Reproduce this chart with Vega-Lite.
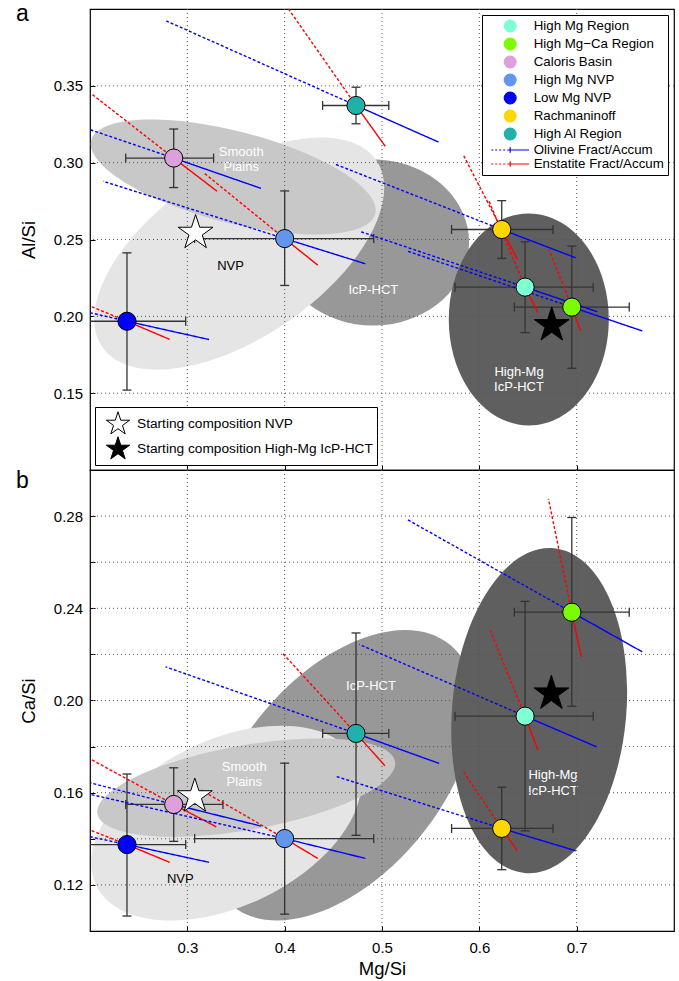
{
"$schema":"https://vega.github.io/schema/vega-lite/v6.json",
"padding":{"left":15,"top":2,"right":0,"bottom":0},
"config":{
 "font":"Liberation Sans",
 "view":{"stroke":"black","strokeWidth":1.2},
 "axis":{"domain":false,"grid":false,"ticks":true,"tickColor":"black","tickSize":-5,"tickWidth":1,"labelFontSize":15,"labelColor":"black","titleFontSize":18.5,"titleFontWeight":"normal","titleColor":"black"},
 "axisY":{"labelPadding":12.5,"titlePadding":15},
 "axisX":{"labelPadding":14,"titlePadding":4}
},
"datasets":{
 "points":[
  {"panel":"a","region":"High Mg Region","mg":0.647,"val":0.219,"mg_lo":0.575,"mg_hi":0.717,"val_lo":0.1894,"val_hi":0.2485},
  {"panel":"a","region":"High Mg−Ca Region","mg":0.695,"val":0.206,"mg_lo":0.636,"mg_hi":0.754,"val_lo":0.1662,"val_hi":0.2457},
  {"panel":"a","region":"Caloris Basin","mg":0.286,"val":0.303,"mg_lo":0.2367,"mg_hi":0.327,"val_lo":0.2838,"val_hi":0.3219},
  {"panel":"a","region":"High Mg NVP","mg":0.4,"val":0.2506,"mg_lo":0.3075,"mg_hi":0.4915,"val_lo":0.2201,"val_hi":0.2816},
  {"panel":"a","region":"Low Mg NVP","mg":0.238,"val":0.1968,"mg_lo":0.178,"mg_hi":0.2983,"val_lo":0.152,"val_hi":0.2413},
  {"panel":"a","region":"Rachmaninoff","mg":0.623,"val":0.2565,"mg_lo":0.5715,"mg_hi":0.6757,"val_lo":0.2377,"val_hi":0.2753},
  {"panel":"a","region":"High Al Region","mg":0.4733,"val":0.3372,"mg_lo":0.439,"mg_hi":0.507,"val_lo":0.3253,"val_hi":0.3491},
  {"panel":"b","region":"High Mg Region","mg":0.647,"val":0.1932,"mg_lo":0.575,"mg_hi":0.717,"val_lo":0.1434,"val_hi":0.243},
  {"panel":"b","region":"High Mg−Ca Region","mg":0.695,"val":0.2383,"mg_lo":0.636,"mg_hi":0.754,"val_lo":0.1975,"val_hi":0.2794},
  {"panel":"b","region":"Caloris Basin","mg":0.286,"val":0.1549,"mg_lo":0.2367,"mg_hi":0.3366,"val_lo":0.1389,"val_hi":0.1708},
  {"panel":"b","region":"High Mg NVP","mg":0.4,"val":0.1401,"mg_lo":0.3075,"mg_hi":0.4915,"val_lo":0.1073,"val_hi":0.1728},
  {"panel":"b","region":"Low Mg NVP","mg":0.238,"val":0.1375,"mg_lo":0.178,"mg_hi":0.2983,"val_lo":0.1065,"val_hi":0.1681},
  {"panel":"b","region":"Rachmaninoff","mg":0.623,"val":0.1445,"mg_lo":0.5715,"mg_hi":0.6757,"val_lo":0.1266,"val_hi":0.1624},
  {"panel":"b","region":"High Al Region","mg":0.4733,"val":0.1857,"mg_lo":0.439,"mg_hi":0.507,"val_lo":0.1415,"val_hi":0.2293}
 ],
 "lines":[
  {"panel":"a","region":"High Al Region","mineral":"Olivine Fract/Accum","kind":"fractionation","mg":0.4733,"val":0.3372,"mg2":0.2785,"val2":0.3922},
  {"panel":"a","region":"High Al Region","mineral":"Olivine Fract/Accum","kind":"accumulation","mg":0.4733,"val":0.3372,"mg2":0.5581,"val2":0.3134},
  {"panel":"a","region":"High Al Region","mineral":"Enstatite Fract/Accum","kind":"fractionation","mg":0.4733,"val":0.3372,"mg2":0.404,"val2":0.4},
  {"panel":"a","region":"High Al Region","mineral":"Enstatite Fract/Accum","kind":"accumulation","mg":0.4733,"val":0.3372,"mg2":0.5034,"val2":0.3106},
  {"panel":"a","region":"Caloris Basin","mineral":"Olivine Fract/Accum","kind":"fractionation","mg":0.286,"val":0.303,"mg2":0.2,"val2":0.3215},
  {"panel":"a","region":"Caloris Basin","mineral":"Olivine Fract/Accum","kind":"accumulation","mg":0.286,"val":0.303,"mg2":0.3756,"val2":0.2833},
  {"panel":"a","region":"Caloris Basin","mineral":"Enstatite Fract/Accum","kind":"fractionation","mg":0.286,"val":0.303,"mg2":0.2015,"val2":0.3448},
  {"panel":"a","region":"Caloris Basin","mineral":"Enstatite Fract/Accum","kind":"accumulation","mg":0.286,"val":0.303,"mg2":0.3305,"val2":0.2814},
  {"panel":"a","region":"High Mg NVP","mineral":"Olivine Fract/Accum","kind":"fractionation","mg":0.4,"val":0.2506,"mg2":0.2135,"val2":0.2879},
  {"panel":"a","region":"High Mg NVP","mineral":"Olivine Fract/Accum","kind":"accumulation","mg":0.4,"val":0.2506,"mg2":0.4829,"val2":0.2342},
  {"panel":"a","region":"High Mg NVP","mineral":"Enstatite Fract/Accum","kind":"fractionation","mg":0.4,"val":0.2506,"mg2":0.3171,"val2":0.2933},
  {"panel":"a","region":"High Mg NVP","mineral":"Enstatite Fract/Accum","kind":"accumulation","mg":0.4,"val":0.2506,"mg2":0.434,"val2":0.2333},
  {"panel":"a","region":"Low Mg NVP","mineral":"Olivine Fract/Accum","kind":"fractionation","mg":0.238,"val":0.1968,"mg2":0.2,"val2":0.2024},
  {"panel":"a","region":"Low Mg NVP","mineral":"Olivine Fract/Accum","kind":"accumulation","mg":0.238,"val":0.1968,"mg2":0.3223,"val2":0.1849},
  {"panel":"a","region":"Low Mg NVP","mineral":"Enstatite Fract/Accum","kind":"fractionation","mg":0.238,"val":0.1968,"mg2":0.2,"val2":0.2067},
  {"panel":"a","region":"Low Mg NVP","mineral":"Enstatite Fract/Accum","kind":"accumulation","mg":0.238,"val":0.1968,"mg2":0.2818,"val2":0.185},
  {"panel":"a","region":"Rachmaninoff","mineral":"Olivine Fract/Accum","kind":"fractionation","mg":0.623,"val":0.2565,"mg2":0.4511,"val2":0.2992},
  {"panel":"a","region":"Rachmaninoff","mineral":"Olivine Fract/Accum","kind":"accumulation","mg":0.623,"val":0.2565,"mg2":0.699,"val2":0.2381},
  {"panel":"a","region":"Rachmaninoff","mineral":"Enstatite Fract/Accum","kind":"fractionation","mg":0.623,"val":0.2565,"mg2":0.5834,"val2":0.3052},
  {"panel":"a","region":"Rachmaninoff","mineral":"Enstatite Fract/Accum","kind":"accumulation","mg":0.623,"val":0.2565,"mg2":0.6392,"val2":0.237},
  {"panel":"a","region":"High Mg Region","mineral":"Olivine Fract/Accum","kind":"fractionation","mg":0.647,"val":0.219,"mg2":0.4767,"val2":0.2554},
  {"panel":"a","region":"High Mg Region","mineral":"Olivine Fract/Accum","kind":"accumulation","mg":0.647,"val":0.219,"mg2":0.7212,"val2":0.203},
  {"panel":"a","region":"High Mg Region","mineral":"Enstatite Fract/Accum","kind":"fractionation","mg":0.647,"val":0.219,"mg2":0.61,"val2":0.2749},
  {"panel":"a","region":"High Mg Region","mineral":"Enstatite Fract/Accum","kind":"accumulation","mg":0.647,"val":0.219,"mg2":0.6603,"val2":0.2024},
  {"panel":"a","region":"High Mg−Ca Region","mineral":"Olivine Fract/Accum","kind":"fractionation","mg":0.695,"val":0.206,"mg2":0.5264,"val2":0.2424},
  {"panel":"a","region":"High Mg−Ca Region","mineral":"Olivine Fract/Accum","kind":"accumulation","mg":0.695,"val":0.206,"mg2":0.7674,"val2":0.1905},
  {"panel":"a","region":"High Mg−Ca Region","mineral":"Enstatite Fract/Accum","kind":"fractionation","mg":0.695,"val":0.206,"mg2":0.6716,"val2":0.2435},
  {"panel":"a","region":"High Mg−Ca Region","mineral":"Enstatite Fract/Accum","kind":"accumulation","mg":0.695,"val":0.206,"mg2":0.7041,"val2":0.1905},
  {"panel":"b","region":"High Al Region","mineral":"Olivine Fract/Accum","kind":"fractionation","mg":0.4733,"val":0.1857,"mg2":0.2777,"val2":0.2146},
  {"panel":"b","region":"High Al Region","mineral":"Olivine Fract/Accum","kind":"accumulation","mg":0.4733,"val":0.1857,"mg2":0.5587,"val2":0.1727},
  {"panel":"b","region":"High Al Region","mineral":"Enstatite Fract/Accum","kind":"fractionation","mg":0.4733,"val":0.1857,"mg2":0.3981,"val2":0.2204},
  {"panel":"b","region":"High Al Region","mineral":"Enstatite Fract/Accum","kind":"accumulation","mg":0.4733,"val":0.1857,"mg2":0.503,"val2":0.1717},
  {"panel":"b","region":"High Mg Region","mineral":"Olivine Fract/Accum","kind":"fractionation","mg":0.647,"val":0.1932,"mg2":0.4767,"val2":0.2243},
  {"panel":"b","region":"High Mg Region","mineral":"Olivine Fract/Accum","kind":"accumulation","mg":0.647,"val":0.1932,"mg2":0.7205,"val2":0.1799},
  {"panel":"b","region":"High Mg Region","mineral":"Enstatite Fract/Accum","kind":"fractionation","mg":0.647,"val":0.1932,"mg2":0.6111,"val2":0.2305},
  {"panel":"b","region":"High Mg Region","mineral":"Enstatite Fract/Accum","kind":"accumulation","mg":0.647,"val":0.1932,"mg2":0.6603,"val2":0.1785},
  {"panel":"b","region":"High Mg−Ca Region","mineral":"Olivine Fract/Accum","kind":"fractionation","mg":0.695,"val":0.2383,"mg2":0.5264,"val2":0.2784},
  {"panel":"b","region":"High Mg−Ca Region","mineral":"Olivine Fract/Accum","kind":"accumulation","mg":0.695,"val":0.2383,"mg2":0.7674,"val2":0.2211},
  {"panel":"b","region":"High Mg−Ca Region","mineral":"Enstatite Fract/Accum","kind":"fractionation","mg":0.695,"val":0.2383,"mg2":0.671,"val2":0.2875},
  {"panel":"b","region":"High Mg−Ca Region","mineral":"Enstatite Fract/Accum","kind":"accumulation","mg":0.695,"val":0.2383,"mg2":0.7048,"val2":0.2189},
  {"panel":"b","region":"Rachmaninoff","mineral":"Olivine Fract/Accum","kind":"fractionation","mg":0.623,"val":0.1445,"mg2":0.4518,"val2":0.1672},
  {"panel":"b","region":"Rachmaninoff","mineral":"Olivine Fract/Accum","kind":"accumulation","mg":0.623,"val":0.1445,"mg2":0.699,"val2":0.1348},
  {"panel":"b","region":"Rachmaninoff","mineral":"Enstatite Fract/Accum","kind":"fractionation","mg":0.623,"val":0.1445,"mg2":0.5825,"val2":0.1698},
  {"panel":"b","region":"Rachmaninoff","mineral":"Enstatite Fract/Accum","kind":"accumulation","mg":0.623,"val":0.1445,"mg2":0.639,"val2":0.1348},
  {"panel":"b","region":"Caloris Basin","mineral":"Olivine Fract/Accum","kind":"fractionation","mg":0.286,"val":0.1549,"mg2":0.2,"val2":0.1643},
  {"panel":"b","region":"Caloris Basin","mineral":"Olivine Fract/Accum","kind":"accumulation","mg":0.286,"val":0.1549,"mg2":0.3759,"val2":0.1455},
  {"panel":"b","region":"Caloris Basin","mineral":"Enstatite Fract/Accum","kind":"fractionation","mg":0.286,"val":0.1549,"mg2":0.2,"val2":0.1747},
  {"panel":"b","region":"Caloris Basin","mineral":"Enstatite Fract/Accum","kind":"accumulation","mg":0.286,"val":0.1549,"mg2":0.3297,"val2":0.1452},
  {"panel":"b","region":"High Mg NVP","mineral":"Olivine Fract/Accum","kind":"fractionation","mg":0.4,"val":0.1401,"mg2":0.2,"val2":0.1593},
  {"panel":"b","region":"High Mg NVP","mineral":"Olivine Fract/Accum","kind":"accumulation","mg":0.4,"val":0.1401,"mg2":0.4829,"val2":0.1315},
  {"panel":"b","region":"High Mg NVP","mineral":"Enstatite Fract/Accum","kind":"fractionation","mg":0.4,"val":0.1401,"mg2":0.3144,"val2":0.1611},
  {"panel":"b","region":"High Mg NVP","mineral":"Enstatite Fract/Accum","kind":"accumulation","mg":0.4,"val":0.1401,"mg2":0.434,"val2":0.1315},
  {"panel":"b","region":"Low Mg NVP","mineral":"Olivine Fract/Accum","kind":"fractionation","mg":0.238,"val":0.1375,"mg2":0.2,"val2":0.1409},
  {"panel":"b","region":"Low Mg NVP","mineral":"Olivine Fract/Accum","kind":"accumulation","mg":0.238,"val":0.1375,"mg2":0.3223,"val2":0.1298},
  {"panel":"b","region":"Low Mg NVP","mineral":"Enstatite Fract/Accum","kind":"fractionation","mg":0.238,"val":0.1375,"mg2":0.2,"val2":0.1438},
  {"panel":"b","region":"Low Mg NVP","mineral":"Enstatite Fract/Accum","kind":"accumulation","mg":0.238,"val":0.1375,"mg2":0.2818,"val2":0.1298}
 ],
 "regions":[
  {"panel":"a","name":"IcP-HCT","mg":0.4908,"val":0.248},
  {"panel":"a","name":"High-Mg IcP-HCT","mg":0.6508,"val":0.198},
  {"panel":"a","name":"NVP","mg":0.3533,"val":0.2409},
  {"panel":"a","name":"Smooth Plains","mg":0.3472,"val":0.2906},
  {"panel":"b","name":"IcP-HCT","mg":0.458,"val":0.1676},
  {"panel":"b","name":"High-Mg IcP-HCT","mg":0.6615,"val":0.1956},
  {"panel":"b","name":"NVP","mg":0.34,"val":0.1468},
  {"panel":"b","name":"Smooth Plains","mg":0.3605,"val":0.1622}
 ],
 "labels":[
  {"panel":"a","text":"Smooth\nPlains","mg":0.3554,"val":0.3072},
  {"panel":"a","text":"NVP","mg":0.3444,"val":0.2327},
  {"panel":"a","text":"IcP-HCT","mg":0.4911,"val":0.2169},
  {"panel":"a","text":"High-Mg\nIcP-HCT","mg":0.6408,"val":0.164},
  {"panel":"b","text":"Smooth\nPlains","mg":0.3585,"val":0.1712},
  {"panel":"b","text":"NVP","mg":0.2928,"val":0.1224},
  {"panel":"b","text":"IcP-HCT","mg":0.4887,"val":0.2062},
  {"panel":"b","text":"High-Mg\nIcP-HCT","mg":0.6757,"val":0.1675}
 ],
 "stars":[
  {"panel":"a","start":"Starting composition NVP","mg":0.3085,"val":0.2543},
  {"panel":"a","start":"Starting composition High-Mg IcP-HCT","mg":0.6744,"val":0.1942},
  {"panel":"b","start":"Starting composition NVP","mg":0.3077,"val":0.1584},
  {"panel":"b","start":"Starting composition High-Mg IcP-HCT","mg":0.674,"val":0.203}
 ],
 "gridx":[{"mg":0.3},{"mg":0.4},{"mg":0.5},{"mg":0.6},{"mg":0.7}],
 "gridy":[
  {"panel":"a","val":0.15},{"panel":"a","val":0.2},{"panel":"a","val":0.25},{"panel":"a","val":0.3},{"panel":"a","val":0.35},
  {"panel":"b","val":0.12},{"panel":"b","val":0.14},{"panel":"b","val":0.16},{"panel":"b","val":0.18},{"panel":"b","val":0.2},{"panel":"b","val":0.22},{"panel":"b","val":0.24},{"panel":"b","val":0.26},{"panel":"b","val":0.28}
 ]
},
"spacing":0,
"bounds":"flush",
"resolve":{"scale":{"x":"independent","y":"independent","color":"independent","fill":"independent","strokeDash":"independent"},"legend":{"color":"independent","fill":"independent"}},
"vconcat":[
{
"width":584,"height":461,
"title":{"text":"a","anchor":"start","frame":"group","fontSize":23,"fontWeight":"normal","color":"black","baseline":"alphabetic","offset":-22,"dx":-74,"dy":14},
"layer":[
 {"data":{"name":"regions"},"transform":[{"filter":"datum.panel === 'a' && datum.name === 'IcP-HCT'"}],
  "mark":{"type":"point","shape":"M1,0C1,0.4775 0.5523,0.8646 0,0.8646C-0.5523,0.8646 -1,0.4775 -1,0C-1,-0.4775 -0.5523,-0.8646 0,-0.8646C0.5523,-0.8646 1,-0.4775 1,0Z","filled":true,"color":"#989898","opacity":1,"size":36864,"angle":0,"strokeWidth":0,"clip":true},
  "encoding":{"x":{"field":"mg","type":"quantitative","scale":{"domain":[0.2,0.8],"nice":false,"zero":false}},"y":{"field":"val","type":"quantitative","scale":{"domain":[0.1,0.4],"nice":false,"zero":false}}}},
 {"data":{"name":"regions"},"transform":[{"filter":"datum.panel === 'a' && datum.name === 'High-Mg IcP-HCT'"}],
  "mark":{"type":"point","shape":"M1,0C1,0.4168 0.5523,0.7547 0,0.7547C-0.5523,0.7547 -1,0.4168 -1,0C-1,-0.4168 -0.5523,-0.7547 0,-0.7547C0.5523,-0.7547 1,-0.4168 1,0Z","filled":true,"color":"#5f5f5f","opacity":1,"size":44944,"angle":90,"strokeWidth":0,"clip":true},
  "encoding":{"x":{"field":"mg","type":"quantitative","scale":{"domain":[0.2,0.8],"nice":false,"zero":false}},"y":{"field":"val","type":"quantitative","scale":{"domain":[0.1,0.4],"nice":false,"zero":false}}}},
 {"data":{"name":"regions"},"transform":[{"filter":"datum.panel === 'a' && datum.name === 'NVP'"}],
  "mark":{"type":"point","shape":"M1,0C1,0.2788 0.5523,0.5048 0,0.5048C-0.5523,0.5048 -1,0.2788 -1,0C-1,-0.2788 -0.5523,-0.5048 0,-0.5048C0.5523,-0.5048 1,-0.2788 1,0Z","filled":true,"color":"#e5e5e5","opacity":1,"size":109958,"angle":-34.2,"strokeWidth":0,"clip":true},
  "encoding":{"x":{"field":"mg","type":"quantitative","scale":{"domain":[0.2,0.8],"nice":false,"zero":false}},"y":{"field":"val","type":"quantitative","scale":{"domain":[0.1,0.4],"nice":false,"zero":false}}}},
 {"data":{"name":"regions"},"transform":[{"filter":"datum.panel === 'a' && datum.name === 'Smooth Plains'"}],
  "mark":{"type":"point","shape":"M1,0C1,0.172 0.5523,0.3115 0,0.3115C-0.5523,0.3115 -1,0.172 -1,0C-1,-0.172 -0.5523,-0.3115 0,-0.3115C0.5523,-0.3115 1,-0.172 1,0Z","filled":true,"color":"#c8c8c8","opacity":1,"size":86084,"angle":14.5,"strokeWidth":0,"clip":true},
  "encoding":{"x":{"field":"mg","type":"quantitative","scale":{"domain":[0.2,0.8],"nice":false,"zero":false}},"y":{"field":"val","type":"quantitative","scale":{"domain":[0.1,0.4],"nice":false,"zero":false}}}},
 {"data":{"name":"labels"},"transform":[{"filter":"datum.panel === 'a' && datum.text !== 'NVP'"}],
  "mark":{"type":"text","fontSize":13,"color":"white","lineBreak":"\n","lineHeight":15.5,"align":"center","baseline":"middle"},
  "encoding":{"x":{"field":"mg","type":"quantitative","scale":{"domain":[0.2,0.8],"nice":false,"zero":false}},"y":{"field":"val","type":"quantitative","scale":{"domain":[0.1,0.4],"nice":false,"zero":false}},"text":{"field":"text"}}},
 {"data":{"name":"labels"},"transform":[{"filter":"datum.panel === 'a' && datum.text === 'NVP'"}],
  "mark":{"type":"text","fontSize":13,"color":"black","align":"center","baseline":"middle"},
  "encoding":{"x":{"field":"mg","type":"quantitative","scale":{"domain":[0.2,0.8],"nice":false,"zero":false}},"y":{"field":"val","type":"quantitative","scale":{"domain":[0.1,0.4],"nice":false,"zero":false}},"text":{"field":"text"}}},
 {"data":{"name":"gridx"},
  "mark":{"type":"rule","color":"#555555","strokeWidth":1,"strokeDash":[1,3]},
  "encoding":{"x":{"field":"mg","type":"quantitative","scale":{"domain":[0.2,0.8],"nice":false,"zero":false},"axis":{"title":null,"labels":false,"values":[0.3,0.4,0.5,0.6,0.7]}}}},
 {"data":{"name":"gridy"},"transform":[{"filter":"datum.panel === 'a'"}],
  "mark":{"type":"rule","color":"#555555","strokeWidth":1,"strokeDash":[1,3]},
  "encoding":{"y":{"field":"val","type":"quantitative","scale":{"domain":[0.1,0.4],"nice":false,"zero":false},"axis":{"title":"Al/Si","values":[0.15,0.2,0.25,0.3,0.35],"format":".2f"}}}},
 {"data":{"name":"points"},"transform":[{"filter":"datum.panel === 'a'"}],
  "mark":{"type":"rule","color":"#333333","strokeWidth":1.3},
  "encoding":{"x":{"field":"mg","type":"quantitative","scale":{"domain":[0.2,0.8],"nice":false,"zero":false}},"y":{"field":"val_lo","type":"quantitative","scale":{"domain":[0.1,0.4],"nice":false,"zero":false}},"y2":{"field":"val_hi"}}},
 {"data":{"name":"points"},"transform":[{"filter":"datum.panel === 'a'"}],
  "mark":{"type":"rule","color":"#333333","strokeWidth":1.3,"clip":true},
  "encoding":{"x":{"field":"mg_lo","type":"quantitative","scale":{"domain":[0.2,0.8],"nice":false,"zero":false}},"x2":{"field":"mg_hi"},"y":{"field":"val","type":"quantitative","scale":{"domain":[0.1,0.4],"nice":false,"zero":false}}}},
 {"data":{"name":"points"},"transform":[{"filter":"datum.panel === 'a'"}],
  "mark":{"type":"tick","orient":"horizontal","color":"#333333","size":9,"thickness":1.3,"opacity":1},
  "encoding":{"x":{"field":"mg","type":"quantitative","scale":{"domain":[0.2,0.8],"nice":false,"zero":false}},"y":{"field":"val_lo","type":"quantitative","scale":{"domain":[0.1,0.4],"nice":false,"zero":false}}}},
 {"data":{"name":"points"},"transform":[{"filter":"datum.panel === 'a'"}],
  "mark":{"type":"tick","orient":"horizontal","color":"#333333","size":9,"thickness":1.3,"opacity":1},
  "encoding":{"x":{"field":"mg","type":"quantitative","scale":{"domain":[0.2,0.8],"nice":false,"zero":false}},"y":{"field":"val_hi","type":"quantitative","scale":{"domain":[0.1,0.4],"nice":false,"zero":false}}}},
 {"data":{"name":"points"},"transform":[{"filter":"datum.panel === 'a'"}],
  "mark":{"type":"tick","orient":"vertical","color":"#333333","size":9,"thickness":1.3,"opacity":1,"clip":true},
  "encoding":{"x":{"field":"mg_lo","type":"quantitative","scale":{"domain":[0.2,0.8],"nice":false,"zero":false}},"y":{"field":"val","type":"quantitative","scale":{"domain":[0.1,0.4],"nice":false,"zero":false}}}},
 {"data":{"name":"points"},"transform":[{"filter":"datum.panel === 'a'"}],
  "mark":{"type":"tick","orient":"vertical","color":"#333333","size":9,"thickness":1.3,"opacity":1,"clip":true},
  "encoding":{"x":{"field":"mg_hi","type":"quantitative","scale":{"domain":[0.2,0.8],"nice":false,"zero":false}},"y":{"field":"val","type":"quantitative","scale":{"domain":[0.1,0.4],"nice":false,"zero":false}}}},
 {"data":{"name":"lines"},"transform":[{"filter":"datum.panel === 'a'"}],
  "mark":{"type":"rule","strokeWidth":1.4},
  "encoding":{"x":{"field":"mg","type":"quantitative","scale":{"domain":[0.2,0.8],"nice":false,"zero":false}},"y":{"field":"val","type":"quantitative","scale":{"domain":[0.1,0.4],"nice":false,"zero":false}},"x2":{"field":"mg2"},"y2":{"field":"val2"},
   "color":{"field":"mineral","type":"nominal","scale":{"domain":["High Mg Region","High Mg−Ca Region","Caloris Basin","High Mg NVP","Low Mg NVP","Rachmaninoff","High Al Region","Olivine Fract/Accum","Enstatite Fract/Accum"],"range":["#7fffd4","#7cfc00","#dda0dd","#6495ed","#0000ff","#ffd700","#20b2aa","#0000ff","#ff0000"]}},
   "strokeDash":{"field":"kind","type":"nominal","scale":{"domain":["fractionation","accumulation"],"range":[[3,2],[1,0]]},"legend":null}}},
 {"data":{"name":"points"},"transform":[{"filter":"datum.panel === 'a'"}],
  "mark":{"type":"point","shape":"circle","filled":true,"size":330,"stroke":"black","strokeWidth":1,"opacity":1},
  "encoding":{"x":{"field":"mg","type":"quantitative","scale":{"domain":[0.2,0.8],"nice":false,"zero":false}},"y":{"field":"val","type":"quantitative","scale":{"domain":[0.1,0.4],"nice":false,"zero":false}},
   "color":{"field":"region","type":"nominal","scale":{"domain":["High Mg Region","High Mg−Ca Region","Caloris Basin","High Mg NVP","Low Mg NVP","Rachmaninoff","High Al Region","Olivine Fract/Accum","Enstatite Fract/Accum"],"range":["#7fffd4","#7cfc00","#dda0dd","#6495ed","#0000ff","#ffd700","#20b2aa","#0000ff","#ff0000"]},
    "legend":{"orient":"top-right","offset":6,"title":null,"padding":4,"fillColor":"white","strokeColor":"black","cornerRadius":0,"labelFontSize":13.3,"labelColor":"black","labelLimit":400,"symbolSize":140,"symbolStrokeColor":"black","symbolStrokeWidth":1,"symbolOpacity":1,"rowPadding":0,"symbolOffset":17.2,"labelOffset":16.5,"zindex":2,
     "encode":{"symbols":{"update":{
      "shape":[{"test":"indexof(datum.value, 'Accum') >= 0","value":"M-3.2,0L-2.87,0M-2.53,0L-2.2,0M-1.86,0L-1.53,0M-1.19,0L-0.86,0M-0.5,0L3.2,0M0,-0.45L0,0.45"},{"value":"circle"}],
      "stroke":[{"test":"datum.value === 'Olivine Fract/Accum'","value":"#0000ff"},{"test":"datum.value === 'Enstatite Fract/Accum'","value":"#ff0000"},{"value":"black"}],
      "strokeWidth":{"value":1.2},
      "opacity":{"value":1}}}}}}}},
 {"data":{"name":"stars"},"transform":[{"filter":"datum.panel === 'a'"}],
  "mark":{"type":"point","shape":"M0,-1L0.2245,-0.309L0.9511,-0.309L0.3633,0.118L0.5878,0.809L0,0.382L-0.5878,0.809L-0.3633,0.118L-0.9511,-0.309L-0.2245,-0.309Z","filled":true,"size":1340,"stroke":"black","strokeWidth":1,"opacity":1},
  "encoding":{"x":{"field":"mg","type":"quantitative","scale":{"domain":[0.2,0.8],"nice":false,"zero":false}},"y":{"field":"val","type":"quantitative","scale":{"domain":[0.1,0.4],"nice":false,"zero":false}},
   "fill":{"field":"start","type":"nominal","scale":{"domain":["Starting composition NVP","Starting composition High-Mg IcP-HCT"],"range":["white","black"]},
    "legend":{"orient":"bottom-left","offset":5,"title":null,"padding":4,"fillColor":"white","strokeColor":"black","cornerRadius":0,"labelFontSize":13.7,"labelColor":"black","labelLimit":400,"symbolType":"M0,-1L0.2245,-0.309L0.9511,-0.309L0.3633,0.118L0.5878,0.809L0,0.382L-0.5878,0.809L-0.3633,0.118L-0.9511,-0.309L-0.2245,-0.309Z","symbolSize":600,"symbolStrokeColor":"black","symbolStrokeWidth":1,"symbolOpacity":1,"rowPadding":-10,"labelOffset":6,"symbolOffset":6,"zindex":2}}}}
]
},
{
"width":584,"height":461,
"title":{"text":"b","anchor":"start","frame":"group","fontSize":23,"fontWeight":"normal","color":"black","baseline":"alphabetic","offset":-22,"dx":-74,"dy":19},
"layer":[
 {"data":{"name":"regions"},"transform":[{"filter":"datum.panel === 'b' && datum.name === 'IcP-HCT'"}],
  "mark":{"type":"point","shape":"M1,0C1,0.3249 0.5523,0.5882 0,0.5882C-0.5523,0.5882 -1,0.3249 -1,0C-1,-0.3249 -0.5523,-0.5882 0,-0.5882C0.5523,-0.5882 1,-0.3249 1,0Z","filled":true,"color":"#989898","opacity":1,"size":115600,"angle":-50,"strokeWidth":0,"clip":true},
  "encoding":{"x":{"field":"mg","type":"quantitative","scale":{"domain":[0.2,0.8],"nice":false,"zero":false}},"y":{"field":"val","type":"quantitative","scale":{"domain":[0.1,0.3],"nice":false,"zero":false}}}},
 {"data":{"name":"regions"},"transform":[{"filter":"datum.panel === 'b' && datum.name === 'High-Mg IcP-HCT'"}],
  "mark":{"type":"point","shape":"M1,0C1,0.2951 0.5523,0.5344 0,0.5344C-0.5523,0.5344 -1,0.2951 -1,0C-1,-0.2951 -0.5523,-0.5344 0,-0.5344C0.5523,-0.5344 1,-0.2951 1,0Z","filled":true,"color":"#5f5f5f","opacity":1,"size":106276,"angle":-84.9,"strokeWidth":0,"clip":true},
  "encoding":{"x":{"field":"mg","type":"quantitative","scale":{"domain":[0.2,0.8],"nice":false,"zero":false}},"y":{"field":"val","type":"quantitative","scale":{"domain":[0.1,0.3],"nice":false,"zero":false}}}},
 {"data":{"name":"regions"},"transform":[{"filter":"datum.panel === 'b' && datum.name === 'NVP'"}],
  "mark":{"type":"point","shape":"M1,0C1,0.3187 0.5523,0.577 0,0.577C-0.5523,0.577 -1,0.3187 -1,0C-1,-0.3187 -0.5523,-0.577 0,-0.577C0.5523,-0.577 1,-0.3187 1,0Z","filled":true,"color":"#e5e5e5","opacity":1,"size":83175,"angle":-25.5,"strokeWidth":0,"clip":true},
  "encoding":{"x":{"field":"mg","type":"quantitative","scale":{"domain":[0.2,0.8],"nice":false,"zero":false}},"y":{"field":"val","type":"quantitative","scale":{"domain":[0.1,0.3],"nice":false,"zero":false}}}},
 {"data":{"name":"regions"},"transform":[{"filter":"datum.panel === 'b' && datum.name === 'Smooth Plains'"}],
  "mark":{"type":"point","shape":"M1,0C1,0.1546 0.5523,0.28 0,0.28C-0.5523,0.28 -1,0.1546 -1,0C-1,-0.1546 -0.5523,-0.28 0,-0.28C0.5523,-0.28 1,-0.1546 1,0Z","filled":true,"color":"#c8c8c8","opacity":1,"size":91324,"angle":-10,"strokeWidth":0,"clip":true},
  "encoding":{"x":{"field":"mg","type":"quantitative","scale":{"domain":[0.2,0.8],"nice":false,"zero":false}},"y":{"field":"val","type":"quantitative","scale":{"domain":[0.1,0.3],"nice":false,"zero":false}}}},
 {"data":{"name":"labels"},"transform":[{"filter":"datum.panel === 'b' && datum.text !== 'NVP'"}],
  "mark":{"type":"text","fontSize":13,"color":"white","lineBreak":"\n","lineHeight":15.5,"align":"center","baseline":"middle"},
  "encoding":{"x":{"field":"mg","type":"quantitative","scale":{"domain":[0.2,0.8],"nice":false,"zero":false}},"y":{"field":"val","type":"quantitative","scale":{"domain":[0.1,0.3],"nice":false,"zero":false}},"text":{"field":"text"}}},
 {"data":{"name":"labels"},"transform":[{"filter":"datum.panel === 'b' && datum.text === 'NVP'"}],
  "mark":{"type":"text","fontSize":13,"color":"black","align":"center","baseline":"middle"},
  "encoding":{"x":{"field":"mg","type":"quantitative","scale":{"domain":[0.2,0.8],"nice":false,"zero":false}},"y":{"field":"val","type":"quantitative","scale":{"domain":[0.1,0.3],"nice":false,"zero":false}},"text":{"field":"text"}}},
 {"data":{"name":"gridx"},
  "mark":{"type":"rule","color":"#555555","strokeWidth":1,"strokeDash":[1,3]},
  "encoding":{"x":{"field":"mg","type":"quantitative","scale":{"domain":[0.2,0.8],"nice":false,"zero":false},"axis":{"title":"Mg/Si","values":[0.3,0.4,0.5,0.6,0.7],"format":".1f"}}}},
 {"data":{"name":"gridy"},"transform":[{"filter":"datum.panel === 'b'"}],
  "mark":{"type":"rule","color":"#555555","strokeWidth":1,"strokeDash":[1,3]},
  "encoding":{"y":{"field":"val","type":"quantitative","scale":{"domain":[0.1,0.3],"nice":false,"zero":false},"axis":{"title":"Ca/Si","values":[0.12,0.14,0.16,0.18,0.2,0.22,0.24,0.26,0.28],"labelExpr":"round(datum.value*100) % 4 === 0 ? format(datum.value, '.2f') : ''"}}}},
 {"data":{"name":"points"},"transform":[{"filter":"datum.panel === 'b'"}],
  "mark":{"type":"rule","color":"#333333","strokeWidth":1.3},
  "encoding":{"x":{"field":"mg","type":"quantitative","scale":{"domain":[0.2,0.8],"nice":false,"zero":false}},"y":{"field":"val_lo","type":"quantitative","scale":{"domain":[0.1,0.3],"nice":false,"zero":false}},"y2":{"field":"val_hi"}}},
 {"data":{"name":"points"},"transform":[{"filter":"datum.panel === 'b'"}],
  "mark":{"type":"rule","color":"#333333","strokeWidth":1.3,"clip":true},
  "encoding":{"x":{"field":"mg_lo","type":"quantitative","scale":{"domain":[0.2,0.8],"nice":false,"zero":false}},"x2":{"field":"mg_hi"},"y":{"field":"val","type":"quantitative","scale":{"domain":[0.1,0.3],"nice":false,"zero":false}}}},
 {"data":{"name":"points"},"transform":[{"filter":"datum.panel === 'b'"}],
  "mark":{"type":"tick","orient":"horizontal","color":"#333333","size":9,"thickness":1.3,"opacity":1},
  "encoding":{"x":{"field":"mg","type":"quantitative","scale":{"domain":[0.2,0.8],"nice":false,"zero":false}},"y":{"field":"val_lo","type":"quantitative","scale":{"domain":[0.1,0.3],"nice":false,"zero":false}}}},
 {"data":{"name":"points"},"transform":[{"filter":"datum.panel === 'b'"}],
  "mark":{"type":"tick","orient":"horizontal","color":"#333333","size":9,"thickness":1.3,"opacity":1},
  "encoding":{"x":{"field":"mg","type":"quantitative","scale":{"domain":[0.2,0.8],"nice":false,"zero":false}},"y":{"field":"val_hi","type":"quantitative","scale":{"domain":[0.1,0.3],"nice":false,"zero":false}}}},
 {"data":{"name":"points"},"transform":[{"filter":"datum.panel === 'b'"}],
  "mark":{"type":"tick","orient":"vertical","color":"#333333","size":9,"thickness":1.3,"opacity":1,"clip":true},
  "encoding":{"x":{"field":"mg_lo","type":"quantitative","scale":{"domain":[0.2,0.8],"nice":false,"zero":false}},"y":{"field":"val","type":"quantitative","scale":{"domain":[0.1,0.3],"nice":false,"zero":false}}}},
 {"data":{"name":"points"},"transform":[{"filter":"datum.panel === 'b'"}],
  "mark":{"type":"tick","orient":"vertical","color":"#333333","size":9,"thickness":1.3,"opacity":1,"clip":true},
  "encoding":{"x":{"field":"mg_hi","type":"quantitative","scale":{"domain":[0.2,0.8],"nice":false,"zero":false}},"y":{"field":"val","type":"quantitative","scale":{"domain":[0.1,0.3],"nice":false,"zero":false}}}},
 {"data":{"name":"lines"},"transform":[{"filter":"datum.panel === 'b'"}],
  "mark":{"type":"rule","strokeWidth":1.4},
  "encoding":{"x":{"field":"mg","type":"quantitative","scale":{"domain":[0.2,0.8],"nice":false,"zero":false}},"y":{"field":"val","type":"quantitative","scale":{"domain":[0.1,0.3],"nice":false,"zero":false}},"x2":{"field":"mg2"},"y2":{"field":"val2"},
   "color":{"field":"mineral","type":"nominal","scale":{"domain":["High Mg Region","High Mg−Ca Region","Caloris Basin","High Mg NVP","Low Mg NVP","Rachmaninoff","High Al Region","Olivine Fract/Accum","Enstatite Fract/Accum"],"range":["#7fffd4","#7cfc00","#dda0dd","#6495ed","#0000ff","#ffd700","#20b2aa","#0000ff","#ff0000"]},"legend":null},
   "strokeDash":{"field":"kind","type":"nominal","scale":{"domain":["fractionation","accumulation"],"range":[[3,2],[1,0]]},"legend":null}}},
 {"data":{"name":"points"},"transform":[{"filter":"datum.panel === 'b'"}],
  "mark":{"type":"point","shape":"circle","filled":true,"size":330,"stroke":"black","strokeWidth":1,"opacity":1},
  "encoding":{"x":{"field":"mg","type":"quantitative","scale":{"domain":[0.2,0.8],"nice":false,"zero":false}},"y":{"field":"val","type":"quantitative","scale":{"domain":[0.1,0.3],"nice":false,"zero":false}},
   "color":{"field":"region","type":"nominal","scale":{"domain":["High Mg Region","High Mg−Ca Region","Caloris Basin","High Mg NVP","Low Mg NVP","Rachmaninoff","High Al Region","Olivine Fract/Accum","Enstatite Fract/Accum"],"range":["#7fffd4","#7cfc00","#dda0dd","#6495ed","#0000ff","#ffd700","#20b2aa","#0000ff","#ff0000"]},"legend":null}}},
 {"data":{"name":"stars"},"transform":[{"filter":"datum.panel === 'b'"}],
  "mark":{"type":"point","shape":"M0,-1L0.2245,-0.309L0.9511,-0.309L0.3633,0.118L0.5878,0.809L0,0.382L-0.5878,0.809L-0.3633,0.118L-0.9511,-0.309L-0.2245,-0.309Z","filled":true,"size":1340,"stroke":"black","strokeWidth":1,"opacity":1},
  "encoding":{"x":{"field":"mg","type":"quantitative","scale":{"domain":[0.2,0.8],"nice":false,"zero":false}},"y":{"field":"val","type":"quantitative","scale":{"domain":[0.1,0.3],"nice":false,"zero":false}},
   "fill":{"field":"start","type":"nominal","scale":{"domain":["Starting composition NVP","Starting composition High-Mg IcP-HCT"],"range":["white","black"]},"legend":null}}}
]
}
]
}
